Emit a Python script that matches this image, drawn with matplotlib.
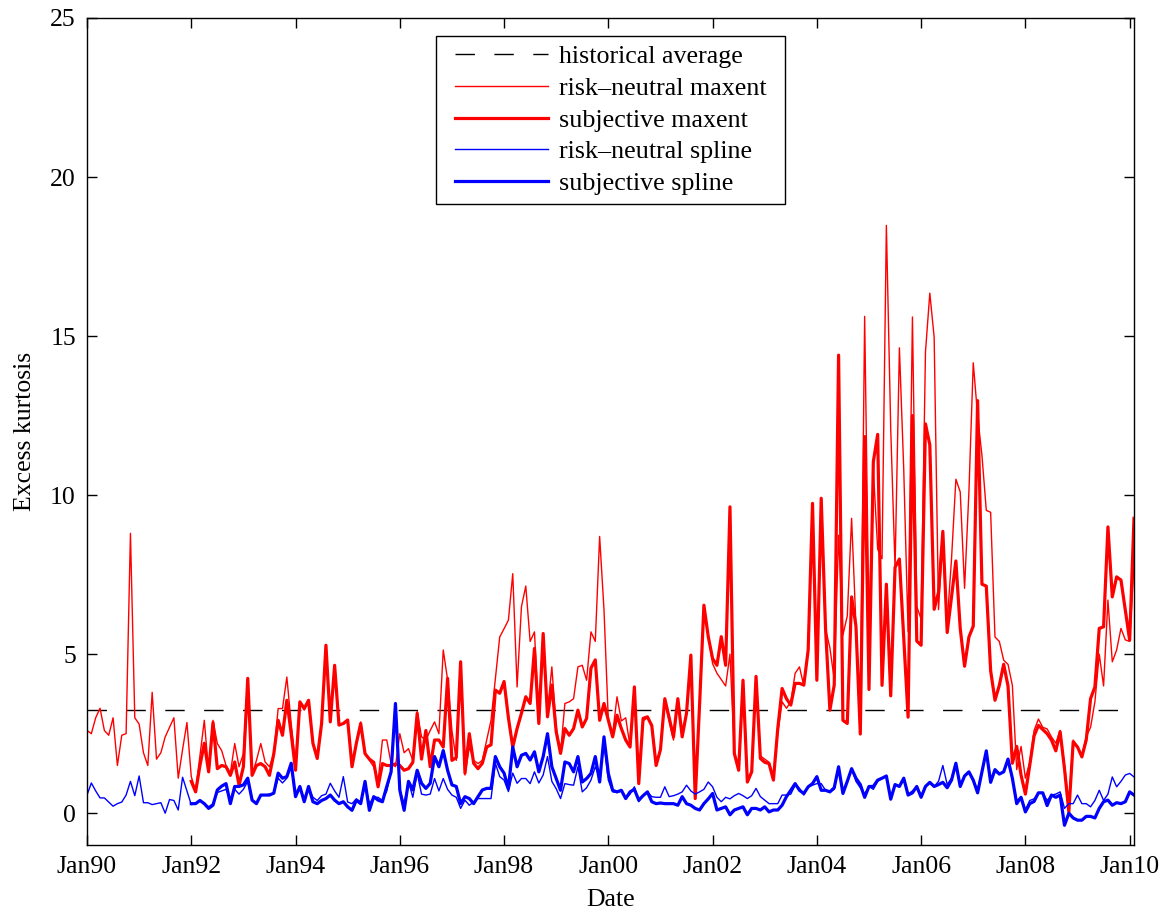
import numpy as np
import matplotlib
matplotlib.use("Agg")
import matplotlib.pyplot as plt
from matplotlib.patches import Rectangle

plt.rcParams['font.family'] = ['Liberation Serif', 'DejaVu Serif']

# monthly data, Jan 1990 = month 0
tick_labels = ['Jan90', 'Jan92', 'Jan94', 'Jan96', 'Jan98', 'Jan00',
               'Jan02', 'Jan04', 'Jan06', 'Jan08', 'Jan10']
hist_avg = 3.25
subj_start = 24  # subjective series start Jan92

rn_maxent = [
    2.6, 2.5, 3.0, 3.3, 2.6, 2.45, 3.0, 1.5, 2.45, 2.5, 8.8, 3.0,
    2.8, 1.9, 1.5, 3.8, 1.7, 1.9, 2.4, 2.7, 3.0, 1.1, 2.0, 2.85,
    1.15, 0.7, 1.8, 2.92, 1.3, 2.92, 2.19, 1.97, 1.5, 1.26, 2.19, 1.46,
    1.87, 4.24, 1.19, 1.66, 2.19, 1.61, 1.46, 1.87, 3.29, 3.29, 4.28, 2.82,
    1.56, 3.5, 3.24, 3.55, 2.2, 1.78, 2.82, 5.2, 2.87, 4.6, 2.77, 2.8,
    2.9, 1.56, 2.2, 2.87, 1.9, 1.66, 1.46, 1.0, 2.3, 2.3, 1.56, 1.46,
    2.5, 1.9, 2.03, 1.66, 3.2, 2.4, 2.3, 2.6, 2.87, 2.5, 5.13, 4.2,
    2.6, 1.66, 4.7, 1.2, 2.08, 1.66, 1.56, 1.66, 2.3, 2.92, 4.24, 5.54,
    5.8, 6.07, 7.53, 3.97, 6.49, 7.14, 5.4, 5.7, 2.9, 5.3, 3.2, 4.6,
    2.7, 1.9, 3.45, 3.5, 3.6, 4.6, 4.65, 4.18, 5.7, 5.4, 8.7, 6.4,
    2.92, 2.5, 3.66, 2.9, 3.0, 2.1, 3.97, 0.93, 2.9, 3.0, 2.8, 1.6,
    2.0, 3.5, 2.9, 2.3, 3.5, 2.5, 3.1, 4.9, 0.5, 3.4, 6.5, 5.6,
    4.7, 4.4, 4.2, 4.0, 5.0, 1.9, 1.4, 4.1, 1.0, 1.3, 4.3, 1.8,
    1.7, 1.6, 1.1, 2.5, 3.5, 3.3, 3.5, 4.4, 4.6, 4.0, 5.2, 9.6,
    4.2, 9.7, 5.8, 5.2, 4.2, 8.74, 5.6, 6.2, 9.27, 5.9, 2.9, 15.62,
    5.9, 10.8, 8.3, 8.0, 18.48, 12.1, 7.7, 14.63, 10.8, 5.7, 15.6, 6.5,
    6.1, 14.5, 16.35, 14.96, 6.4, 8.7, 6.0, 8.0, 10.5, 10.1, 7.07, 10.1,
    14.16, 12.5, 11.25, 9.52, 9.46, 5.54, 5.4, 4.81, 4.68, 4.02, 1.37, 2.1,
    1.1, 1.6, 2.6, 2.96, 2.7, 2.65, 2.4, 2.2, 2.6, 1.5, 0.3, 2.3,
    2.1, 1.8, 2.4, 2.7, 3.5, 5.0, 4.0, 6.7, 4.76, 5.13, 5.81, 5.45,
    5.4, 7.8,
]

subj_maxent = [
    1.0, 0.67, 1.5, 2.2, 1.3, 2.85, 1.4, 1.5, 1.46, 1.19, 1.61, 0.88,
    1.46, 4.24, 1.19, 1.5, 1.56, 1.46, 1.19, 1.87, 2.92, 2.45, 3.55, 2.5,
    1.35, 3.5, 3.29, 3.55, 2.2, 1.72, 2.82, 5.28, 2.87, 4.65, 2.77, 2.82,
    2.93, 1.46, 2.2, 2.82, 1.87, 1.7, 1.6, 0.83, 1.56, 1.5, 1.5, 1.55,
    1.5, 1.35, 1.4, 1.6, 3.14, 1.7, 2.6, 1.46, 2.3, 2.3, 2.08, 4.24,
    1.66, 1.75, 4.76, 1.26, 2.5, 1.57, 1.4, 1.57, 2.08, 2.15, 3.87, 3.77,
    4.14, 3.0, 2.08, 2.66, 3.14, 3.66, 3.45, 5.18, 2.82, 5.65, 3.03, 4.03,
    2.56, 1.88, 2.66, 2.45, 2.66, 3.24, 2.71, 2.98, 4.56, 4.82, 2.92, 3.45,
    2.92, 2.4, 3.08, 2.66, 2.3, 2.08, 3.97, 0.93, 2.98, 3.03, 2.75, 1.5,
    2.0, 3.6, 3.0, 2.4, 3.6, 2.4, 3.15, 4.97, 0.46, 3.4, 6.54, 5.55,
    4.86, 4.65, 5.55, 4.65, 9.63, 1.88, 1.35, 4.18, 0.98, 1.3, 4.3, 1.72,
    1.6, 1.56, 1.04, 2.66, 3.92, 3.6, 3.4, 4.08, 4.08, 4.03, 5.13, 9.74,
    4.18, 9.9, 5.8, 3.24, 4.03, 14.4, 2.92, 2.82, 6.8, 5.88, 2.49, 11.84,
    3.89, 11.05, 11.91, 4.02, 7.2, 3.69, 7.73, 7.99, 5.5, 3.02, 12.5, 5.41,
    5.28, 12.24, 11.58, 6.41, 6.94, 8.86, 5.68, 6.8, 7.93, 5.81, 4.62, 5.54,
    5.88, 12.97, 7.2, 7.14, 4.48, 3.55, 4.02, 4.68, 4.0, 1.57, 2.1, 1.2,
    0.6, 1.5, 2.43, 2.76, 2.63, 2.5, 2.3, 1.96, 2.56, 1.4, 0.04, 2.24,
    2.08, 1.77, 2.3, 3.6, 3.97, 5.81, 5.86, 9.0, 6.8, 7.43, 7.33, 6.38,
    5.44, 9.27,
]

rn_spline = [
    0.57, 0.95, 0.7, 0.48, 0.48, 0.35, 0.22, 0.3, 0.35, 0.57, 1.0, 0.55,
    1.17, 0.33, 0.33, 0.27, 0.3, 0.33, 0.0, 0.43, 0.4, 0.1, 1.13, 0.7,
    0.27, 0.3, 0.4, 0.3, 0.2, 0.3, 0.65, 0.7, 0.75, 0.45, 0.75, 0.6,
    0.75, 1.0, 0.4, 0.3, 0.57, 0.57, 0.6, 0.63, 1.1, 0.95, 1.1, 1.45,
    0.55, 0.8, 0.45, 0.8, 0.5, 0.4, 0.55, 0.6, 0.94, 0.7, 0.5, 1.15,
    0.35, 0.3, 0.45, 0.35, 0.9, 0.3, 0.5, 0.5, 0.4, 0.7, 1.3, 3.3,
    0.7, 0.3, 1.0, 0.5, 1.26, 0.6, 0.57, 0.6, 1.09, 0.7, 1.09, 0.75,
    0.57, 0.5, 0.15, 0.41, 0.25, 0.35, 0.46, 0.46, 0.46, 0.46, 1.57, 1.15,
    1.04, 0.68, 1.26, 0.94, 1.09, 1.09, 0.93, 1.3, 0.95, 1.2, 1.78, 1.0,
    0.77, 0.46, 0.93, 0.9, 0.88, 1.46, 0.67, 0.8, 1.04, 1.46, 1.14, 2.2,
    1.04, 0.67, 0.65, 0.7, 0.46, 0.6, 0.83, 0.36, 0.55, 0.67, 0.52, 0.5,
    0.5, 0.83, 0.52, 0.55, 0.6, 0.67, 0.88, 0.7, 0.6, 0.67, 0.75, 0.98,
    0.83, 0.5, 0.36, 0.5, 0.45, 0.55, 0.62, 0.55, 0.46, 0.55, 0.78, 0.52,
    0.41, 0.3, 0.3, 0.3, 0.57, 0.57, 0.6, 0.88, 0.78, 0.57, 0.83, 0.88,
    0.93, 0.93, 0.72, 0.67, 0.75, 1.46, 0.7, 1.0, 1.4, 1.0, 0.8, 0.6,
    0.84, 0.75, 1.0, 1.1, 1.17, 0.5, 0.9, 0.84, 1.1, 0.6, 0.7, 0.84,
    0.55, 0.84, 0.97, 0.84, 1.0, 1.5, 0.9, 1.1, 1.57, 0.9, 1.17, 1.3,
    1.0, 0.75, 1.3, 1.96, 1.0, 1.3, 1.23, 1.3, 1.6, 1.1, 0.4, 0.5,
    0.1, 0.4, 0.45, 0.64, 0.64, 0.4, 0.57, 0.6, 0.67, 0.15, 0.3, 0.3,
    0.57, 0.3, 0.3, 0.2, 0.4, 0.72, 0.4, 0.6, 1.14, 0.83, 1.0, 1.2,
    1.25, 1.14,
]

subj_spline = [
    0.3, 0.3, 0.4, 0.3, 0.15, 0.25, 0.73, 0.85, 0.93, 0.3, 0.84, 0.84,
    0.89, 1.1, 0.41, 0.3, 0.57, 0.57, 0.57, 0.63, 1.26, 1.1, 1.15, 1.57,
    0.52, 0.84, 0.36, 0.84, 0.36, 0.3, 0.4, 0.46, 0.57, 0.41, 0.3, 0.36,
    0.2, 0.09, 0.41, 0.3, 1.0, 0.09, 0.52, 0.41, 0.36, 0.84, 1.3, 3.45,
    0.73, 0.09, 1.0, 0.73, 1.35, 0.94, 0.78, 0.94, 1.78, 1.46, 1.97, 1.35,
    0.89, 0.84, 0.3, 0.52, 0.46, 0.3, 0.52, 0.73, 0.78, 0.78, 1.78, 1.46,
    1.26, 0.78, 2.08, 1.46, 1.82, 1.88, 1.67, 1.93, 1.3, 1.78, 2.5, 1.46,
    1.09, 0.72, 1.61, 1.56, 1.3, 1.78, 0.98, 1.09, 1.25, 1.78, 0.98, 2.4,
    1.25, 0.72, 0.67, 0.72, 0.46, 0.67, 0.75, 0.41, 0.55, 0.67, 0.36, 0.3,
    0.32, 0.3, 0.3, 0.3, 0.25, 0.52, 0.3, 0.25, 0.15, 0.1, 0.3, 0.45,
    0.62, 0.1, 0.15, 0.2, -0.05, 0.1, 0.15, 0.2, -0.05, 0.15, 0.15, 0.1,
    0.2, 0.04, 0.1, 0.1, 0.25, 0.52, 0.72, 0.93, 0.72, 0.62, 0.83, 0.93,
    1.15, 0.72, 0.72, 0.67, 0.8, 1.46, 0.62, 1.0, 1.4, 1.1, 0.9, 0.5,
    0.84, 0.84, 1.04, 1.1, 1.17, 0.44, 0.9, 0.84, 1.1, 0.57, 0.64, 0.84,
    0.5, 0.84, 0.97, 0.84, 0.9, 0.97, 0.8, 1.04, 1.57, 0.84, 1.17, 1.3,
    1.04, 0.64, 1.3, 1.96, 0.97, 1.37, 1.23, 1.3, 1.7, 1.1, 0.3, 0.5,
    0.04, 0.3, 0.37, 0.64, 0.64, 0.24, 0.57, 0.5, 0.57, -0.38, 0.0, -0.15,
    -0.22, -0.22, -0.1, -0.1, -0.15, 0.15, 0.36, 0.41, 0.25, 0.33, 0.3, 0.36,
    0.67, 0.57,
]

m_rn = np.arange(len(rn_maxent))
m_subj = np.arange(len(subj_maxent)) + subj_start

fig = plt.figure(figsize=(11.69, 9.14), dpi=100)
ax = fig.add_axes([87 / 1169, 1 - 845 / 914, (1134 - 87) / 1169, (845 - 18) / 914])

ax.axhline(hist_avg, color='k', lw=1.0, dashes=(14, 14), label='historical average')
ax.plot(m_rn, rn_maxent, color='r', lw=1.0, label='risk\u2013neutral maxent')
ax.plot(m_subj, subj_maxent, color='r', lw=2.3, label='subjective maxent')
ax.plot(m_rn, rn_spline, color='b', lw=1.0, label='risk\u2013neutral spline')
ax.plot(m_subj, subj_spline, color='b', lw=2.3, label='subjective spline')

ax.set_xlim(0, 241)
ax.set_ylim(-1, 25)
ax.set_xticks(np.arange(len(tick_labels)) * 24)
ax.set_xticklabels(tick_labels)
ax.set_yticks([0, 5, 10, 15, 20, 25])
ax.tick_params(direction='in', length=7, width=1, top=True, right=True,
               labelsize=18.5, pad=8)
for s in ax.spines.values():
    s.set_linewidth(1.0)

ax.set_xlabel('Date', fontsize=18.5, labelpad=8)
ax.set_ylabel('Excess kurtosis', fontsize=18.5, labelpad=10)

# legend without its own frame; a wider box is drawn round it below
leg = ax.legend(loc='upper center', bbox_to_anchor=(0.5, 1 - 27 / 827),
                borderaxespad=0, fontsize=18.7, handlelength=3.6,
                handletextpad=0.4, labelspacing=0.33, borderpad=0,
                frameon=False)
fig.canvas.draw()
bb = leg.get_window_extent().transformed(ax.transAxes.inverted())
padx = 19 / 1047
pady = 9 / 827
ax.add_patch(Rectangle((bb.x0 - padx, bb.y0 - pady), bb.width + 2 * padx,
                       bb.height + 2 * pady, transform=ax.transAxes,
                       facecolor='white', edgecolor='k', lw=1.0, zorder=4.9))

fig.savefig('out.png', dpi=100)
